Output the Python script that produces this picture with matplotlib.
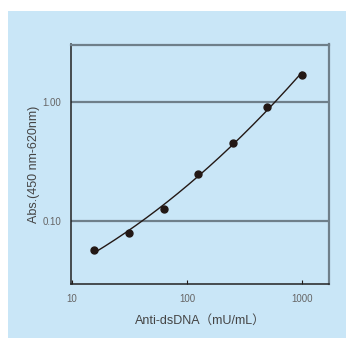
import numpy as np
import matplotlib.pyplot as plt
from matplotlib.patches import Rectangle

# Anti-dsDNA standard curve (2-fold dilution series)
conc = [15.6, 31.25, 62.5, 125, 250, 500, 1000]   # mU/mL
absb = [0.057, 0.080, 0.126, 0.248, 0.452, 0.90, 1.69]  # Abs. 450-620nm

xticks = [10, 100, 1000]
xtick_labels = ['10', '100', '1000']
yticks = [0.10, 1.00]
ytick_labels = ['0.10', '1.00']

plt.rcParams['font.family'] = ['Liberation Sans', 'Noto Sans CJK JP', 'DejaVu Sans']

fig = plt.figure(figsize=(3.46, 3.38), dpi=100)
fig.add_artist(Rectangle((8/346, 0), 1, 1 - 11/338, transform=fig.transFigure,
                         facecolor='#c9e6f7', edgecolor='none', zorder=-1))

ax = fig.add_axes([71/346, 54/338, 258/346, 239.5/338])
ax.set_zorder(1)
ax.set_facecolor('none')
ax.set_xscale('log')
ax.set_yscale('log')
ax.set_xlim(9.8, 1718)
ax.set_ylim(0.0296, 3.04)

# fitted curve (quadratic in log-log space)
lx = np.log10(conc)
ly = np.log10(absb)
c = np.polyfit(lx, ly, 2)
xs = np.linspace(lx[0], lx[-1], 200)
ax.plot(10**xs, 10**np.polyval(c, xs), color='#231815', lw=1.0, zorder=3)
ax.plot(conc, absb, 'o', color='#231815', ms=5, zorder=4)

for y in yticks:
    ax.axhline(y, color='#6f7f8a', lw=1.6, zorder=2)

ax.set_xticks(xticks)
ax.set_xticklabels(xtick_labels)
ax.xaxis.set_minor_locator(plt.NullLocator())
ax.set_yticks(yticks)
ax.set_yticklabels(ytick_labels)
ax.yaxis.set_minor_locator(plt.NullLocator())
ax.tick_params(axis='x', direction='in', length=3, width=0.8, color='#231815',
               labelsize=7, labelcolor='#666666', pad=7)
ax.tick_params(axis='y', length=0, labelsize=7, labelcolor='#666666', pad=7)

for s in ['left', 'bottom']:
    ax.spines[s].set_color('#222222')
    ax.spines[s].set_linewidth(1.1)
for s in ['top', 'right']:
    ax.spines[s].set_color('#6f7f8a')
    ax.spines[s].set_linewidth(1.6)

ax.set_xlabel('Anti-dsDNA（mU/mL）', fontsize=9, color='#444444', labelpad=8)
ax.set_ylabel('Abs.(450 nm-620nm)', fontsize=9, color='#444444')
ax.yaxis.set_label_coords(-0.12, 0.5)

fig.savefig('out.png', dpi=100)
